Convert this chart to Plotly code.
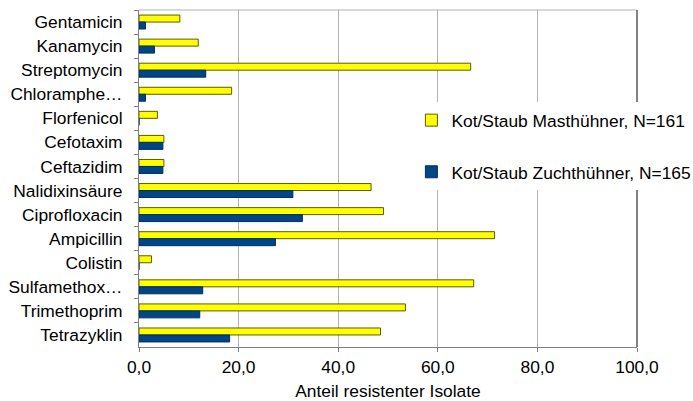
import plotly.graph_objects as go

categories = ["Gentamicin", "Kanamycin", "Streptomycin", "Chloramphe…", "Florfenicol",
              "Cefotaxim", "Ceftazidim", "Nalidixinsäure", "Ciprofloxacin", "Ampicillin",
              "Colistin", "Sulfamethox…", "Trimethoprim", "Tetrazyklin"]
mast_values = [8.2, 11.9, 66.6, 18.6, 3.7, 5.0, 5.0, 46.6, 49.1, 71.4, 2.5, 67.2, 53.5, 48.5]
zucht_values = [1.3, 3.1, 13.4, 1.3, 0.0, 4.8, 4.8, 30.9, 32.8, 27.4, 0.0, 12.8, 12.2, 18.2]
series_names = ["Kot/Staub Masthühner, N=161", "Kot/Staub Zuchthühner, N=165"]
x_ticks = [0, 20, 40, 60, 80, 100]

FONT = "Liberation Sans, Arial, sans-serif"
FS = 17.4

fig = go.Figure()
fig.add_trace(go.Bar(
    y=categories, x=mast_values, orientation="h", name=series_names[0],
    marker=dict(color="#ffff00", line=dict(color="#5c5c00", width=1)),
    legendgroup="a",
))
fig.add_trace(go.Bar(
    y=categories, x=zucht_values, orientation="h", name=series_names[1],
    marker=dict(color="#004586", line=dict(color="#00305e", width=1)),
    legendgroup="b",
))

fig.update_layout(
    width=693, height=401,
    margin=dict(l=139, r=56, t=10, b=54, autoexpand=False),
    paper_bgcolor="white", plot_bgcolor="white",
    barmode="group", bargap=0.42, bargroupgap=0,
    separators=",.",
    font=dict(family=FONT, size=FS, color="#000000"),
    showlegend=True,
    legend=dict(
        x=0.547, xanchor="left", y=0.726, yanchor="top",
        bgcolor="white", borderwidth=0,
        font=dict(family=FONT, size=FS, color="#000000"),
        traceorder="grouped", tracegroupgap=26,
        itemclick=False,
    ),
    xaxis=dict(
        range=[0, 100], tickvals=x_ticks, tickformat=".1f",
        showgrid=True, gridcolor="#b3b3b3", gridwidth=1,
        showline=True, linecolor="#808080", linewidth=1, mirror=False,
        ticks="outside", ticklen=4, tickcolor="#808080",
        tickfont=dict(family=FONT, size=FS),
        zeroline=False,
        title=dict(text="Anteil resistenter Isolate", font=dict(family=FONT, size=FS), standoff=8),
    ),
    yaxis=dict(
        categoryorder="array", categoryarray=categories, autorange="reversed",
        showgrid=False, showline=True, linecolor="#808080", linewidth=1,
        ticks="outside", ticklen=4, tickcolor="#808080", tickson="boundaries",
        tickfont=dict(family=FONT, size=FS), ticklabelstandoff=12,
        zeroline=False,
    ),
    shapes=[
        dict(type="line", xref="paper", yref="paper", x0=0, x1=1, y0=1, y1=1,
             line=dict(color="#b3b3b3", width=1)),
        dict(type="line", xref="paper", yref="paper", x0=1, x1=1, y0=0, y1=1,
             line=dict(color="#595959", width=1.5)),
    ],
)

fig.write_html("out.html", config={"displayModeBar": False},
               post_script="document.body.style.margin='0';")
